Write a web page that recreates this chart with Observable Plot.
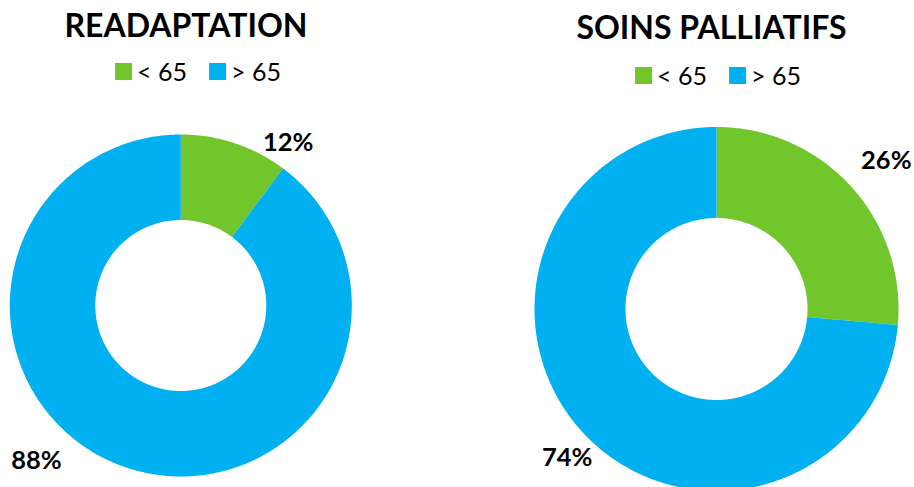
<!DOCTYPE html>
<html><head><meta charset="utf-8">
<script src="https://cdn.jsdelivr.net/npm/d3@7"></script>
<script src="https://cdn.jsdelivr.net/npm/@observablehq/plot@0.6"></script>
<style>
body{margin:0;background:#fff;font-family:Lato,"Open Sans",sans-serif;}
#wrap{position:relative;width:914px;height:487px;overflow:hidden;background:#fff;}
#wrap svg{position:absolute;left:0;top:0;}
.title{position:absolute;font-weight:700;font-size:32px;line-height:32px;color:#000;white-space:nowrap;transform:translateX(-50%);}
.legend{position:absolute;display:flex;align-items:center;font-size:25px;line-height:25px;color:#000;white-space:nowrap;transform:translateX(-50%);}
.sw{width:17px;height:17px;display:inline-block;margin-right:5px;}
.item{display:flex;align-items:center;}
.item + .item{margin-left:22px;}
</style></head><body><div id="wrap"></div>
<script>
// ---- data ----
const categories = ["< 65", "> 65"];
const chartTitles = ["READAPTATION", "SOINS PALLIATIFS"];
const readaptationValues = [10.2, 89.8];
const soinsPalliatifsValues = [26.4, 73.6];
const readaptationLabels = ["12%", "88%"];
const soinsPalliatifsLabels = ["26%", "74%"];
const colors = ["#70C62A", "#00B0F0"];

// ---- layout ----
const W = 914, H = 487;
const layout = [
  {cx: 180.3, cy: 305, r0: 85.5, r1: 171, labelPolar: [[33.4, 1.14], [222.9, 1.24]], titleX: 186, titleTop: 9, legendX: 198, legendTop: 58.5},
  {cx: 716, cy: 308.5, r0: 91, r1: 182, labelPolar: [[48.8, 1.24], [225, 1.16]], titleX: 711.5, titleTop: 10.5, legendX: 718, legendTop: 62.5}
];
const charts = [
  {title: chartTitles[0], values: readaptationValues, labels: readaptationLabels},
  {title: chartTitles[1], values: soinsPalliatifsValues, labels: soinsPalliatifsLabels}
];

const pie = d3.pie().sort(null).value(d => d);
const ringRows = [];
const labelRows = [];
charts.forEach((c, ci) => {
  const L = layout[ci];
  const arcs = pie(c.values);
  arcs.forEach((a, i) => {
    const key = ci + "-" + i;
    const n = Math.max(2, Math.ceil((a.endAngle - a.startAngle) / (Math.PI / 360)));
    const pts = [];
    for (let k = 0; k <= n; k++) {
      const t = a.startAngle + (a.endAngle - a.startAngle) * k / n;
      pts.push([L.cx + L.r1 * Math.sin(t), L.cy - L.r1 * Math.cos(t)]);
    }
    for (let k = n; k >= 0; k--) {
      const t = a.startAngle + (a.endAngle - a.startAngle) * k / n;
      pts.push([L.cx + L.r0 * Math.sin(t), L.cy - L.r0 * Math.cos(t)]);
    }
    pts.forEach(p => ringRows.push({key, group: categories[i], x: p[0], y: p[1]}));
    const [deg, f] = L.labelPolar[i];
    const th = deg * Math.PI / 180;
    labelRows.push({x: L.cx + f * L.r1 * Math.sin(th), y: L.cy - f * L.r1 * Math.cos(th), text: c.labels[i]});
  });
});

const svg = Plot.plot({
  width: W, height: H,
  margin: 0,
  x: {type: "identity", axis: null},
  y: {type: "identity", axis: null},
  color: {domain: categories, range: colors},
  style: {background: "white"},
  marks: [
    Plot.line(ringRows, {x: "x", y: "y", z: "key", fill: "group", stroke: "none", curve: "linear"}),
    Plot.text(labelRows, {x: "x", y: "y", text: "text", fontSize: 25.5, fontWeight: "bold", fontFamily: "Lato, 'Open Sans', sans-serif", fill: "#000", textAnchor: "middle", lineAnchor: "middle"})
  ]
});
const wrap = document.getElementById("wrap");
wrap.appendChild(svg);

charts.forEach((c, ci) => {
  const L = layout[ci];
  const t = document.createElement("div");
  t.className = "title";
  t.textContent = c.title;
  t.style.left = L.titleX + "px";
  t.style.top = L.titleTop + "px";
  wrap.appendChild(t);
  const lg = document.createElement("div");
  lg.className = "legend";
  lg.style.left = L.legendX + "px";
  lg.style.top = L.legendTop + "px";
  categories.forEach((cat, i) => {
    const it = document.createElement("span");
    it.className = "item";
    const sw = document.createElement("span");
    sw.className = "sw";
    sw.style.background = colors[i];
    const tx = document.createElement("span");
    tx.textContent = cat;
    it.appendChild(sw); it.appendChild(tx);
    lg.appendChild(it);
  });
  wrap.appendChild(lg);
});
</script></body></html>
